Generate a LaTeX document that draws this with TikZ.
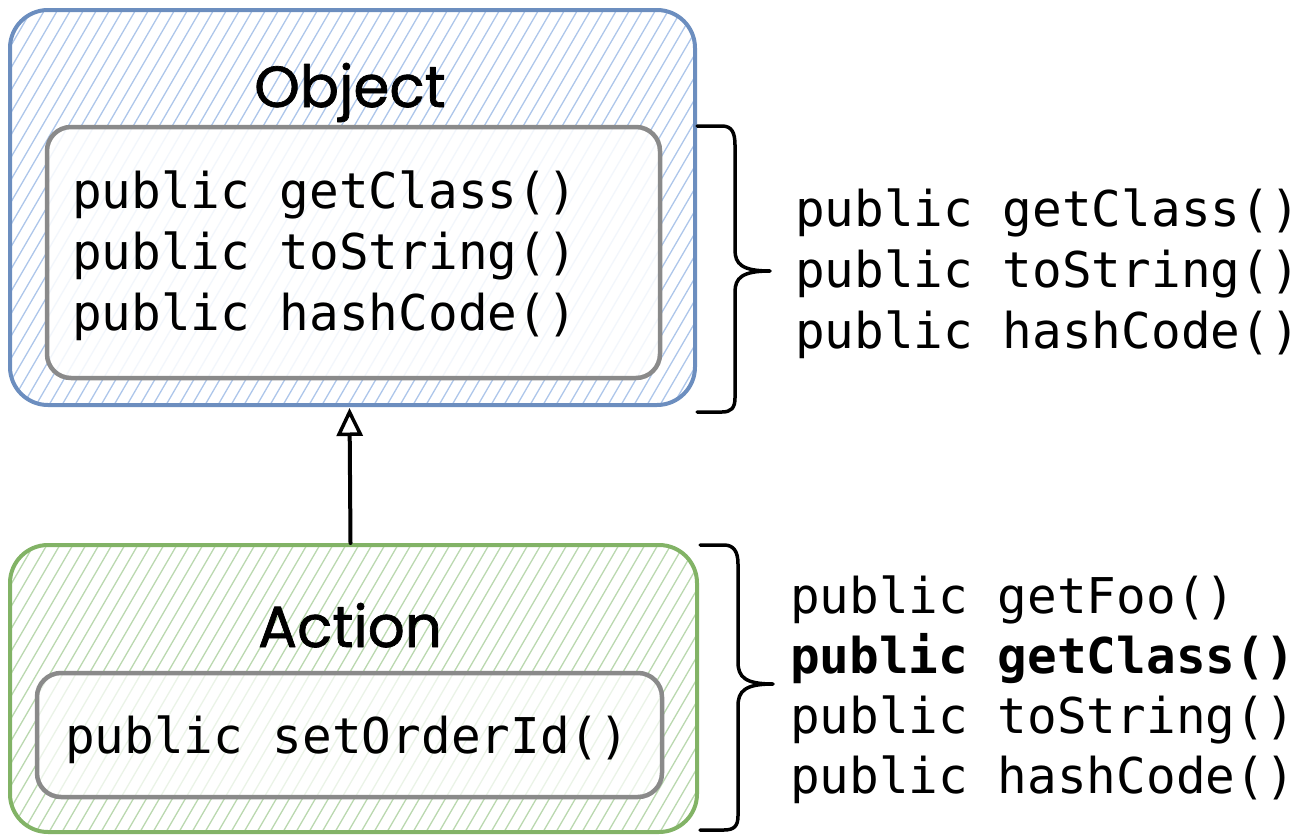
\documentclass[tikz,border=0pt]{standalone}
\usepackage{fontspec}
\usetikzlibrary{arrows.meta}
\newfontfamily\codefont{DejaVu Sans Mono}
\newfontfamily\headfont{Poppins}[FakeBold=1.2]
\definecolor{objstroke}{HTML}{6C8EBF}
\definecolor{objhatch}{HTML}{ADC6EA}
\definecolor{actstroke}{HTML}{82B366}
\definecolor{acthatch}{HTML}{BAD8AF}
\definecolor{innerstroke}{HTML}{8A8A8A}
\begin{document}
\begin{tikzpicture}[x=1pt,y=-1pt,
  line cap=round, line join=round,
  hatched/.style={path picture={
      \foreach \k in {-24,...,56}{
        \draw[#1, line width=1.3pt]
          ([xshift=\k*13pt]path picture bounding box.south west) -- ++(250pt,430pt);
      }}},
  outerbox/.style={draw, line width=4pt, rounded corners=38pt, inner sep=0pt},
  innerbox/.style={draw=innerstroke, line width=4.5pt, rounded corners=24pt,
      fill=white, inner sep=0pt},
  code/.style={font=\codefont\fontsize{49.3}{61}\selectfont, anchor=base west, inner sep=0pt},
  boldcode/.style={code, font=\codefont\bfseries\fontsize{49.3}{61}\selectfont},
  title/.style={font=\headfont\fontsize{58}{60}\selectfont, anchor=base, inner sep=0pt},
  brace/.style={draw=black, line width=3.5pt},
  inherit/.style={draw=black, line width=4pt,
      -{Triangle[open, length=28pt, width=26pt, line width=3.5pt]}}
]
\useasboundingbox (0,0) rectangle (1304,835);

% ---- class Object ----
\node[outerbox, draw=objstroke, hatched=objhatch,
      minimum width=685pt, minimum height=395pt] (object) at (352.5,207.5) {};
\node[innerbox, fill opacity=0.85, minimum width=613pt, minimum height=251pt]
      (objinner) at (353.5,252.5) {};
\node[title] (objtitle) at (350,107) {Object};
\node[code] (o1) at (72,208) {public getClass()};
\node[code] (o2) at (72,269) {public toString()};
\node[code] (o3) at (72,330) {public hashCode()};

% ---- class Action ----
\node[outerbox, draw=actstroke, hatched=acthatch,
      minimum width=687pt, minimum height=287pt] (action) at (353.5,688.5) {};
\node[innerbox, fill opacity=0.7, minimum width=625pt, minimum height=124pt]
      (actinner) at (349.5,735) {};
\node[title] (acttitle) at (350,647) {Action};
\node[code] (a1) at (65,753) {public setOrderId()};

% ---- inheritance arrow ----
\draw[inherit] ([xshift=-3pt]action.north) -- ([xshift=-3pt,yshift=-1pt]object.south);

% ---- methods visible on Object ----
\coordinate (b1top) at (697,126);
\coordinate (b1tip) at (770,271);
\coordinate (b1bot) at (697,412);
\draw[brace] (b1top) -- (722,126) .. controls (732,126) and (735,133) .. (735,145)
  -- (735,250) .. controls (735,264) and (742,271) .. (b1tip)
  (b1tip) .. controls (742,271) and (735,278) .. (735,292)
  -- (735,398) .. controls (735,408) and (731,412) .. (722,412) -- (b1bot);
\node[code] (r1) at (795,226) {public getClass()};
\node[code] (r2) at (795,287) {public toString()};
\node[code] (r3) at (795,348) {public hashCode()};

% ---- methods visible on Action ----
\coordinate (b2top) at (700,545);
\coordinate (b2tip) at (773,684);
\coordinate (b2bot) at (700,830);
\draw[brace] (b2top) -- (724,545) .. controls (734,545) and (738,552) .. (738,564)
  -- (738,662) .. controls (738,677) and (745,684) .. (b2tip)
  (b2tip) .. controls (745,684) and (738,691) .. (738,706)
  -- (738,816) .. controls (738,826) and (734,830) .. (724,830) -- (b2bot);
\node[code] (s1) at (790,613) {public getFoo()};
\node[boldcode] (s2) at (790,673) {public getClass()};
\node[code] (s3) at (790,733) {public toString()};
\node[code] (s4) at (790,793) {public hashCode()};
\end{tikzpicture}
\end{document}
